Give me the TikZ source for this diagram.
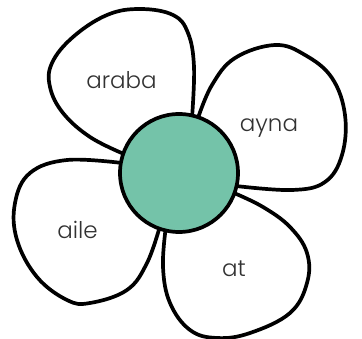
\documentclass[tikz,border=0pt]{standalone}
\usepackage{fontspec}
\setmainfont{Poppins}[UprightFont=* Light]
\definecolor{mint}{RGB}{116,195,169}
\definecolor{ink}{RGB}{50,50,50}
\begin{document}
\begin{tikzpicture}[x=1pt,y=-1pt,
  petal/.style={draw=black,fill=white,line width=3.7pt,line join=round},
  word/.style={anchor=base,text=ink,font=\fontsize{23}{27}\selectfont,inner sep=0pt}]
\useasboundingbox (0,0) rectangle (362,339);
\coordinate (c) at (179,173);
% petal araba
\draw[petal] plot[smooth,tension=0.65] coordinates {(192,118) (194,67) (188,33) (173,15) (140,9) (107,15) (73,37) (52,63) (50,87) (63,113) (90,137) (124,154)} -- (c) -- cycle;
% petal ayna
\draw[petal] plot[smooth,tension=0.65] coordinates {(198,118) (212,85) (235,58) (275,45) (305,55) (332,78) (345,115) (342,155) (325,182) (292,190) (236,186)} -- (c) -- cycle;
% petal aile
\draw[petal] plot[smooth,tension=0.65] coordinates {(122,163) (67,160) (30,173) (15,203) (17,240) (37,277) (67,300) (90,303) (127,290) (147,263) (160,226)} -- (c) -- cycle;
% petal at
\draw[petal] plot[smooth,tension=0.65] coordinates {(166,226) (163,267) (170,303) (190,330) (217,338) (250,333) (290,313) (307,283) (307,253) (290,227) (263,207) (234,193)} -- (c) -- cycle;
\node[circle,draw=black,fill=mint,line width=3.7pt,minimum size=118pt,inner sep=0pt] (center) at (c) {};
\node[word] (araba) at (121.5,89) {araba};
\node[word] (ayna) at (269,132) {ayna};
\node[word] (aile) at (77.5,239) {aile};
\node[word] (at) at (234,277) {at};
\end{tikzpicture}
\end{document}
